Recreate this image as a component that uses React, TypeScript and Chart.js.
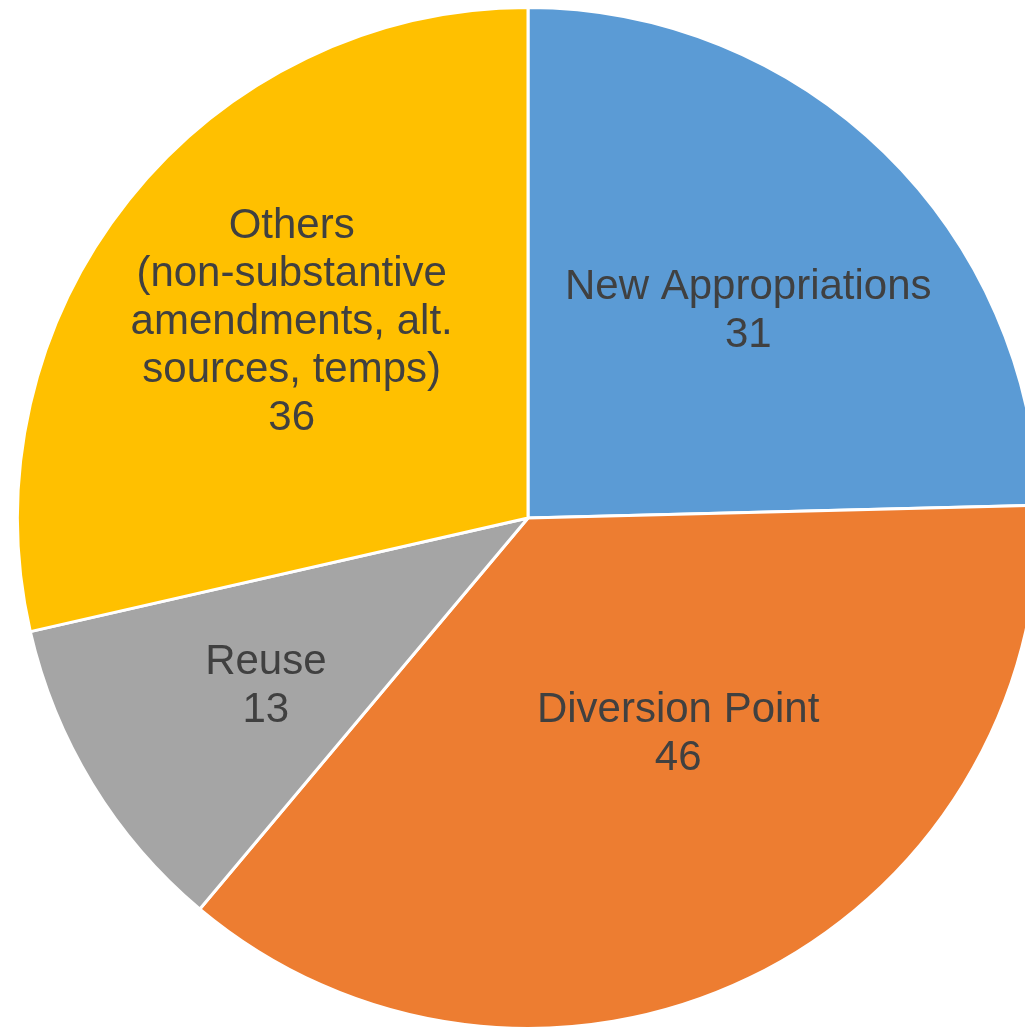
import { useEffect, useRef } from "react";
import { Chart, registerables, Plugin } from "chart.js";

Chart.register(...registerables);

const categories = [
  "New Appropriations",
  "Diversion Point",
  "Reuse",
  "Others (non-substantive amendments, alt. sources, temps)",
];
// how each category name wraps inside its slice
const labelLines = [
  ["New Appropriations"],
  ["Diversion Point"],
  ["Reuse"],
  ["Others", "(non-substantive", "amendments, alt.", "sources, temps)"],
];
const counts = [31, 46, 13, 36];
const sliceColors = ["#5b9bd5", "#ed7d31", "#a5a5a5", "#ffc000"];

// where each label sits: share of the radius, and a small turn (degrees) off the slice middle
const labelPlace = [
  { r: 0.596, turn: 2.1 },
  { r: 0.51, turn: -9.5 },
  { r: 0.607, turn: -0.8 },
  { r: 0.605, turn: 1.5 },
];

const sliceLabels: Plugin<"pie"> = {
  id: "sliceLabels",
  afterDatasetsDraw(chart) {
    const { ctx } = chart;
    const meta = chart.getDatasetMeta(0);
    const lineH = 48;
    ctx.save();
    ctx.font = "42px 'Liberation Sans', Arial, sans-serif";
    ctx.fillStyle = "#404040";
    ctx.textAlign = "center";
    ctx.textBaseline = "alphabetic";
    meta.data.forEach((el: any, i) => {
      const { x, y, startAngle, endAngle, outerRadius } = el.getProps(
        ["x", "y", "startAngle", "endAngle", "outerRadius"],
        true
      );
      const place = labelPlace[i];
      const mid = (startAngle + endAngle) / 2 + (place.turn * Math.PI) / 180;
      const cx = x + Math.cos(mid) * outerRadius * place.r;
      const cy = y + Math.sin(mid) * outerRadius * place.r;
      const lines = [...labelLines[i], String(counts[i])];
      const top = cy - ((lines.length - 1) * lineH) / 2;
      lines.forEach((t, k) => ctx.fillText(t, cx, top + k * lineH + 15));
    });
    ctx.restore();
  },
};

export default function App() {
  const ref = useRef<HTMLCanvasElement>(null);
  const chartRef = useRef<Chart<"pie"> | null>(null);

  useEffect(() => {
    if (!ref.current) return;
    chartRef.current?.destroy();
    chartRef.current = new Chart(ref.current, {
      type: "pie",
      data: {
        labels: categories,
        datasets: [
          {
            data: counts,
            backgroundColor: sliceColors,
            borderColor: "#ffffff",
            borderWidth: 3,
          },
        ],
      },
      options: {
        responsive: true,
        maintainAspectRatio: false,
        animation: false,
        layout: { padding: 0 },
        plugins: {
          legend: { display: false },
          tooltip: { enabled: false },
        },
      },
      plugins: [sliceLabels],
    });
    return () => {
      chartRef.current?.destroy();
    };
  }, []);

  return (
    <div
      style={{
        position: "fixed",
        left: 0,
        top: 0,
        width: 1025,
        height: 1030,
        overflow: "hidden",
        background: "#ffffff",
      }}
    >
      <div style={{ position: "absolute", left: 16, top: 6, width: 1024, height: 1024 }}>
        <canvas ref={ref} />
      </div>
    </div>
  );
}
